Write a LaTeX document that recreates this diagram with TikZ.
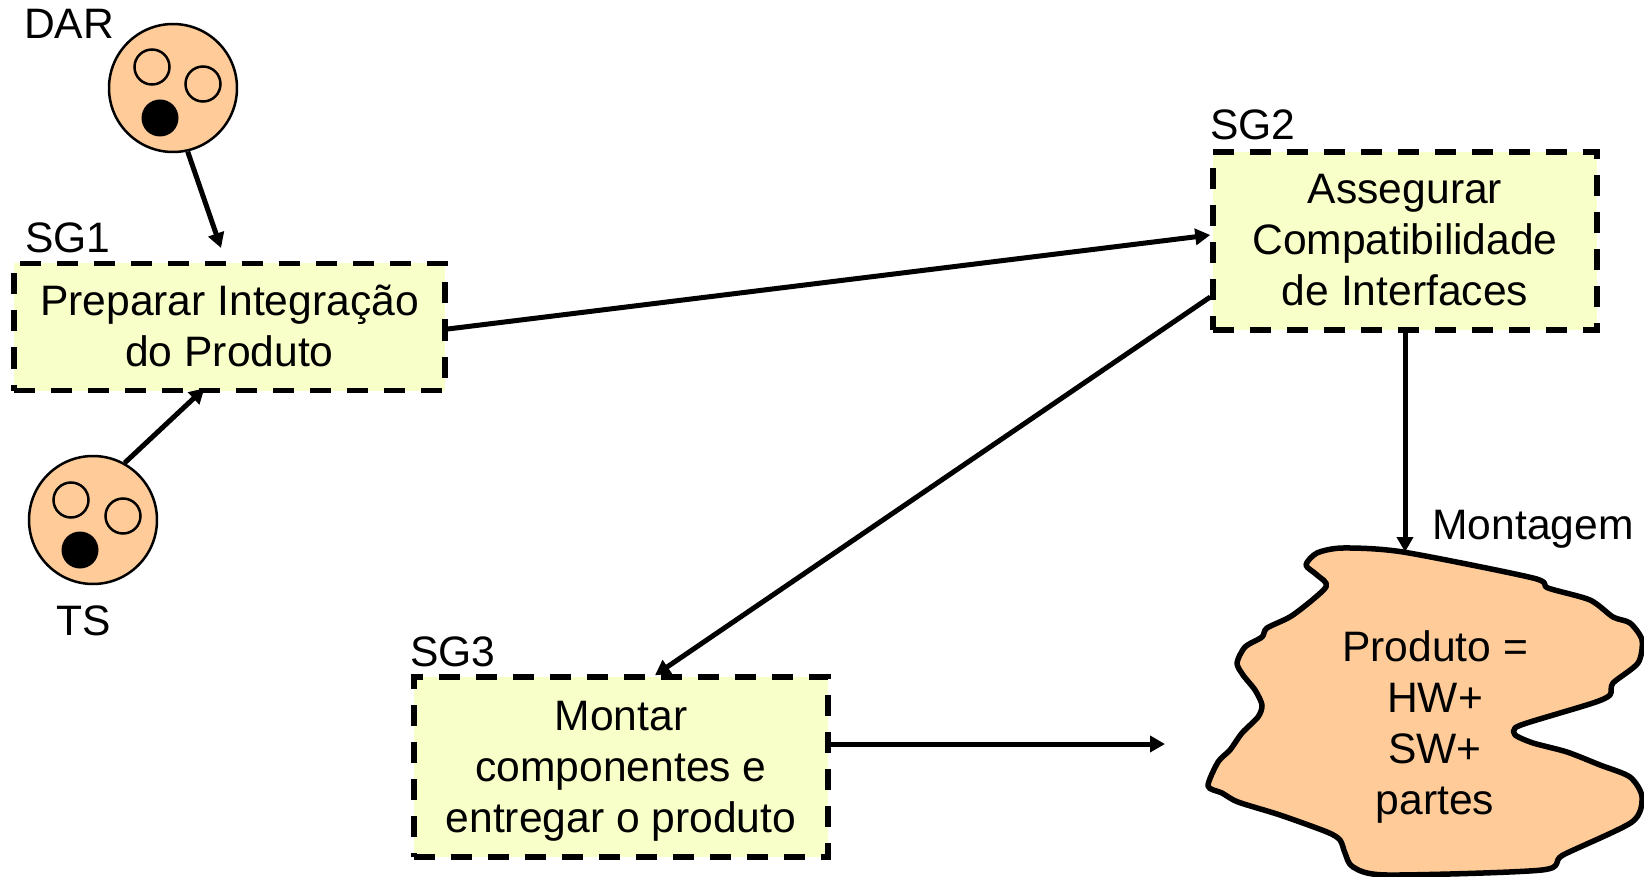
\documentclass[tikz,border=0pt]{standalone}
\usepackage{fontspec}
\setmainfont{Liberation Sans}
\usetikzlibrary{arrows.meta,calc}
\definecolor{peach}{HTML}{FFCC99}
\definecolor{paleyellow}{HTML}{F8FFC8}
\tikzset{
  goalbox/.style={draw=black,fill=paleyellow,line width=5.5pt,dash pattern=on 21pt off 16pt,inner sep=0pt,align=center,font=\fontsize{42.6pt}{51pt}\selectfont},
  lbl/.style={inner sep=0pt,font=\fontsize{42.6pt}{51pt}\selectfont,align=center},
  bigcirc/.style={circle,draw=black,fill=peach,line width=2.5pt,minimum size=128pt,inner sep=0pt},
  smallc/.style={circle,draw=black,fill=peach,line width=2.5pt,minimum size=35pt,inner sep=0pt},
  blackc/.style={circle,fill=black,minimum size=37pt,inner sep=0pt},
  conn/.style={draw=black,line width=5pt,-{Triangle[length=15pt,width=16pt]}},
}
\begin{document}
\begin{tikzpicture}[x=1pt,y=-1pt]
\useasboundingbox (0,0) rectangle (1644,877);
% people
\node[bigcirc] (dar) at (173,88) {};
\node[smallc] (dar1) at (152,67) {};
\node[smallc] (dar2) at (203,84) {};
\node[blackc] (dar3) at (160,118) {};
\node[bigcirc] (ts) at (93,520) {};
\node[smallc] (ts1) at (71,500) {};
\node[smallc] (ts2) at (123,516) {};
\node[blackc] (ts3) at (80,550) {};
\node[lbl] (darl) at (69,24) {DAR};
\node[lbl] (tsl) at (84,621) {TS};
% goals
\node[goalbox,minimum width=431pt,minimum height=127pt] (sg1) at (229.5,327) {Preparar Integração\\do Produto\rule[-3pt]{0pt}{3pt}};
\node[goalbox,minimum width=384pt,minimum height=178pt] (sg2) at (1405,241) {Assegurar\\Compatibilidade\\de Interfaces\rule[-3pt]{0pt}{3pt}};
\node[goalbox,minimum width=414pt,minimum height=180pt] (sg3) at (621,767) {\rule{0pt}{37pt}Montar\\componentes e\\entregar o produto};
\node[lbl] (sg1l) at (68,238) {SG1};
\node[lbl] (sg2l) at (1253,125) {SG2};
\node[lbl] (sg3l) at (453,652) {SG3};
% blob
\draw[black,fill=peach,line width=5.5pt,line join=round] plot[smooth cycle,tension=0.45] coordinates {
(1403,552) (1533,578) (1548,588) (1590,600) (1613,617) (1630,623) (1642,640)
(1638,663) (1613,683) (1610,695) (1593,703) (1530,722) (1515,728) (1515,735)
(1533,743) (1567,752) (1600,765) (1630,777) (1642,797) (1632,822) (1563,855)
(1542,870) (1387,875) (1353,867) (1345,853) (1340,840) (1327,832) (1280,815)
(1238,802) (1222,793) (1208,786) (1218,762) (1230,750) (1242,733) (1258,717)
(1262,705) (1255,690) (1243,675) (1237,663) (1245,647) (1262,637) (1267,628)
(1293,615) (1326,587) (1317,575) (1306,565) (1317,553) (1343,548)};
\node[lbl] (prod) at (1435,727) {Produto =\\HW+\\SW+\\partes};
\node[lbl] (mont) at (1533,529) {Montagem};
% free ends
\coordinate (darend) at (221,248);
\coordinate (blobtop) at (1405,552);
\coordinate (blobleft) at (1165,744);
% connectors
\draw[conn] (dar.-77) -- (darend);
\draw[conn] (ts.61) -- ([xshift=-25pt,yshift=5pt]sg1.south);
\draw[conn] ([yshift=-2pt]sg1.east) -- ([yshift=6pt]sg2.west);
\draw[conn] ([yshift=-56pt]sg2.west) -- ([xshift=34pt,yshift=-1pt]sg3.north);
\draw[conn] (sg2.south) -- (blobtop);
\draw[conn] ([yshift=23pt]sg3.east) -- (blobleft);
\end{tikzpicture}
\end{document}
